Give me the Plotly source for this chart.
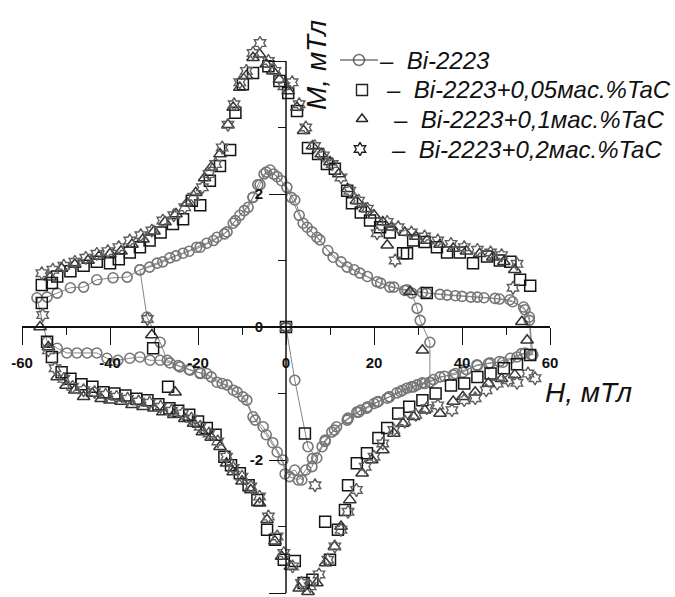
import plotly.graph_objects as go

# ---------------- data (H, mT ; M, mT) ----------------
# Bi-2223 (circles, joined in measurement order)
c_virgin_H = [0.0, 2.0, 5.0, 7.0]
c_virgin_M = [0.0, -0.8, -1.8, -1.97]
c_low0_H = [8.9, 11.0, 14.1, 16.5, 18.5, 21.0, 23.5, 26.0, 28.5, 31.0, 33.5, 36.0, 38.5, 41.0, 43.5, 46.0, 48.5, 51.0, 53.5, 55.8]
c_low0_M = [-1.7, -1.55, -1.37, -1.28, -1.2, -1.12, -1.05, -0.97, -0.9, -0.84, -0.79, -0.74, -0.7, -0.64, -0.58, -0.55, -0.52, -0.47, -0.4, -0.42]
c_jumpA_H = [55.3]
c_jumpA_M = [0.1]
c_up1_H = [54.3, 50.9, 47.5, 43.5, 40.0, 36.6, 32.0, 27.5, 23.6, 20.7, 16.8, 13.9, 10.7, 7.7, 5.9, 3.9, 2.0, 0.2, -2.0, -3.6, -5.0, -6.4, -7.5, -8.6, -10.5, -12.0, -13.4, -15.7, -18.0, -20.3, -23.4, -26.4, -29.3, -33.2, -36.1, -39.3, -43.0, -46.0, -49.0, -52.0, -54.3, -56.6]
c_up1_M = [0.26, 0.41, 0.43, 0.45, 0.46, 0.48, 0.51, 0.56, 0.6, 0.68, 0.81, 0.9, 1.05, 1.31, 1.43, 1.56, 1.91, 2.1, 2.26, 2.36, 2.3, 2.14, 1.95, 1.8, 1.68, 1.56, 1.43, 1.35, 1.26, 1.2, 1.11, 1.04, 0.96, 0.86, 0.75, 0.74, 0.71, 0.6, 0.59, 0.51, 0.45, 0.44]
c_low1_H = [-54.3, -52.0, -49.8, -47.5, -45.2, -43.0, -40.7, -38.2, -35.5, -33.2, -30.9, -28.6, -26.4, -24.1, -21.8, -19.5, -18.0, -15.7, -13.4, -11.1, -8.9, -7.5, -5.2, -3.0, -0.7, -0.2, 2.0, 3.6, 5.9, 8.2, 10.4, 13.9, 16.1, 18.4, 20.7, 23.0, 25.2, 27.5, 29.8, 32.7, 35.0, 38.0, 40.2, 43.4, 46.4, 49.3, 52.5, 54.3, 56.1]
c_low1_M = [-0.22, -0.32, -0.39, -0.39, -0.39, -0.39, -0.47, -0.5, -0.47, -0.45, -0.5, -0.5, -0.54, -0.6, -0.65, -0.69, -0.7, -0.83, -0.87, -0.98, -1.1, -1.35, -1.5, -1.74, -2.0, -2.21, -2.15, -2.3, -2.1, -1.8, -1.58, -1.4, -1.28, -1.22, -1.13, -1.07, -0.99, -0.92, -0.87, -0.83, -0.75, -0.72, -0.68, -0.57, -0.54, -0.53, -0.45, -0.39, -0.42]
c_jumpB_H = [55.3]
c_jumpB_M = [0.15]
c_up2_H = [54.0, 51.5, 48.5, 45.0, 42.0, 38.5, 35.0, 31.0, 27.0, 24.5, 21.5, 18.5, 15.5, 12.5, 9.5, 7.0, 4.8, 3.0, 1.2, -1.0, -2.8, -4.5, -5.9, -7.5, -9.5, -11.5, -14.0, -16.5, -19.5, -22.0, -25.0, -28.0, -31.0, -33.2]
c_up2_M = [0.3, 0.38, 0.42, 0.44, 0.45, 0.47, 0.49, 0.52, 0.55, 0.6, 0.66, 0.76, 0.86, 0.98, 1.15, 1.35, 1.5, 1.68, 1.95, 2.2, 2.3, 2.33, 2.14, 1.95, 1.75, 1.6, 1.4, 1.3, 1.2, 1.14, 1.07, 0.98, 0.9, 0.86]
c_jumpC_H = [-31.6, -28.6]
c_jumpC_M = [0.15, -0.23]
c_low2_H = [-27.0, -24.5, -22.0, -19.5, -17.0, -14.5, -12.0, -9.8, -7.0, -4.5, -2.0, 0.8, 2.8, 4.5, 6.0, 8.9, 11.5, 14.1, 17.0, 20.0, 23.5, 26.5, 29.0, 31.5, 32.7]
c_low2_M = [-0.5, -0.58, -0.64, -0.7, -0.75, -0.85, -0.95, -1.05, -1.4, -1.62, -1.88, -2.25, -2.3, -2.15, -1.98, -1.72, -1.5, -1.38, -1.25, -1.15, -1.05, -0.95, -0.9, -0.85, -0.83]
c_jumpD_H = [32.7, 30.5, 29.8, 28.6]
c_jumpD_M = [-0.23, 0.1, 0.28, 0.51]

# Bi-2223 + 0,05 wt.% TaC (squares)
sq_up_H = [55.5, 53.2, 51.0, 48.6, 45.7, 42.5, 39.5, 36.6, 34.3, 31.5, 28.9, 26.6, 23.6, 21.4, 19.1, 17.0, 15.0, 13.9, 11.1, 9.3, 7.3, 5.0, 2.5, 0.5, -1.5, -4.0, -7.5, -9.8, -11.5, -12.7, -15.0, -17.3, -19.5, -21.4, -23.4, -25.7, -28.5, -31.0, -33.2, -35.5, -38.0, -40.0, -43.0, -46.0, -49.0, -52.0, -53.2, -55.5]
sq_up_M = [0.62, 0.71, 0.98, 1.0, 1.06, 0.96, 1.12, 1.12, 1.2, 1.28, 1.3, 1.11, 1.42, 1.5, 1.6, 1.72, 1.86, 2.05, 2.38, 2.45, 2.6, 2.69, 3.25, 3.52, 3.7, 3.92, 3.82, 3.65, 3.22, 2.66, 2.42, 2.2, 1.83, 1.9, 1.62, 1.55, 1.42, 1.3, 1.2, 1.12, 1.02, 0.96, 0.98, 0.92, 0.84, 0.76, 0.66, 0.63]
sq_low_H = [-55.5, -54.3, -53.2, -51.0, -49.0, -46.5, -44.0, -41.5, -39.0, -36.5, -34.0, -31.5, -29.0, -26.5, -24.5, -22.0, -20.0, -18.0, -16.0, -14.0, -12.5, -10.5, -8.5, -6.5, -4.3, -2.5, -0.5, 2.0, 4.0, 6.0, 8.9, 10.0, 11.8, 13.4, 14.1, 16.1, 18.4, 21.0, 23.0, 25.5, 28.0, 31.0, 34.0, 37.5, 40.5, 43.5, 46.5, 49.5, 52.5, 55.5]
sq_low_M = [0.36, -0.22, -0.45, -0.68, -0.78, -0.86, -0.9, -0.98, -1.0, -1.03, -1.08, -1.1, -1.16, -1.22, -1.26, -1.32, -1.42, -1.52, -1.62, -1.95, -2.08, -2.2, -2.38, -2.6, -3.05, -3.2, -3.5, -3.52, -3.85, -3.8, -2.93, -3.5, -3.05, -2.75, -2.38, -2.05, -1.9, -1.67, -1.52, -1.3, -1.2, -1.1, -1.0, -0.88, -0.85, -0.75, -0.7, -0.62, -0.56, -0.42]
sq_extra_H = [0.0, 4.3, -30.2, -26.8, 27.5, 32.0]
sq_extra_M = [0.0, -1.6, -0.32, -0.9, 1.11, 0.51]

# Bi-2223 + 0,1 wt.% TaC (triangles)
tr_up_H = [53.6, 52.0, 49.5, 47.0, 44.0, 41.0, 38.0, 35.0, 32.0, 29.5, 27.0, 24.0, 22.0, 20.0, 18.0, 16.0, 14.0, 12.0, 10.0, 8.0, 6.0, 4.0, 2.5, 0.5, -1.5, -3.0, -4.5, -6.0, -7.5, -9.0, -10.5, -12.0, -13.2, -15.0, -17.0, -18.5, -20.5, -22.5, -25.0, -27.5, -30.0, -32.5, -35.0, -37.5, -40.0, -42.5, -45.0, -48.0, -51.0, -53.6, -55.9]
tr_up_M = [0.08, 0.86, 0.98, 1.05, 1.1, 1.14, 1.18, 1.24, 1.3, 1.36, 1.42, 1.5, 1.58, 1.68, 1.78, 1.9, 2.08, 2.3, 2.48, 2.6, 2.72, 2.95, 3.3, 3.55, 3.72, 3.85, 3.95, 4.1, 4.05, 3.78, 3.6, 3.3, 3.04, 2.6, 2.4, 2.24, 2.02, 1.86, 1.7, 1.58, 1.44, 1.32, 1.24, 1.14, 1.1, 1.06, 1.0, 0.94, 0.88, 0.75, 0.0]
tr_low_H = [-54.0, -52.0, -50.0, -48.0, -46.0, -44.0, -42.0, -40.0, -37.5, -35.0, -32.5, -30.0, -28.0, -25.5, -23.0, -21.0, -19.0, -17.0, -15.0, -13.5, -12.0, -10.0, -8.0, -6.0, -4.3, -2.5, -1.0, 1.0, 3.0, 5.0, 7.0, 9.0, 11.0, 12.5, 14.5, 17.3, 19.5, 22.0, 24.5, 26.6, 29.0, 31.5, 35.0, 38.0, 40.2, 43.0, 46.0, 49.0, 52.0, 54.8]
tr_low_M = [-0.3, -0.75, -0.88, -0.95, -1.05, -1.0, -1.08, -1.1, -1.12, -1.17, -1.2, -1.22, -1.28, -1.32, -1.38, -1.45, -1.58, -1.66, -1.8, -2.05, -2.18, -2.32, -2.45, -2.65, -2.9, -3.22, -3.45, -3.6, -3.93, -3.98, -3.85, -3.55, -3.3, -3.0, -2.6, -2.2, -2.0, -1.85, -1.6, -1.45, -1.35, -1.25, -1.3, -1.12, -1.05, -0.98, -0.85, -0.78, -0.72, -0.2]
tr_extra_H = [-30.5, -25.2, 31.0, 28.2, 23.0]
tr_extra_M = [-0.12, -0.98, -0.35, 0.53, 1.23]

# Bi-2223 + 0,2 wt.% TaC (six-point stars)
st_up_H = [52.5, 51.6, 49.0, 46.5, 43.5, 40.5, 37.5, 34.5, 31.5, 28.5, 25.5, 23.0, 20.7, 18.5, 16.5, 14.5, 12.5, 10.5, 8.5, 6.5, 4.5, 3.0, 1.4, -0.5, -2.5, -4.0, -5.9, -7.5, -9.0, -10.5, -11.8, -13.2, -14.5, -16.0, -17.5, -19.0, -21.0, -23.0, -25.5, -28.0, -30.5, -33.0, -35.5, -38.0, -40.5, -43.0, -45.5, -48.0, -50.5, -53.0, -55.5, -55.3]
st_up_M = [0.95, 0.59, 1.08, 1.12, 1.16, 1.2, 1.25, 1.3, 1.36, 1.42, 1.5, 1.58, 1.41, 1.78, 1.9, 2.05, 2.25, 2.45, 2.58, 2.72, 3.0, 3.35, 3.68, 3.62, 3.85, 4.0, 4.27, 4.12, 3.85, 3.68, 3.35, 3.04, 2.7, 2.45, 2.3, 2.1, 1.96, 1.8, 1.68, 1.6, 1.45, 1.38, 1.3, 1.2, 1.14, 1.1, 1.04, 0.98, 0.92, 0.86, 0.81, 0.18]
st_low_H = [-54.0, -52.5, -50.5, -48.5, -46.0, -43.5, -41.0, -38.5, -36.0, -33.5, -31.0, -28.5, -26.0, -23.5, -21.5, -19.5, -17.5, -15.5, -13.5, -12.0, -10.0, -8.0, -6.0, -4.0, -2.0, -0.5, 1.5, 3.5, 5.5, 7.5, 9.5, 11.1, 12.5, 14.1, 16.0, 18.0, 20.0, 22.0, 24.5, 27.0, 29.5, 32.0, 34.5, 37.7, 40.5, 43.0, 45.5, 48.0, 50.5, 52.5, 55.0, 56.6]
st_low_M = [-0.35, -0.62, -0.78, -0.9, -0.95, -0.98, -1.02, -1.05, -1.08, -1.12, -1.14, -1.2, -1.26, -1.3, -1.38, -1.5, -1.6, -1.72, -1.95, -2.12, -2.25, -2.4, -2.55, -2.85, -3.15, -3.4, -3.6, -3.85, -3.9, -3.72, -3.5, -3.3, -3.05, -2.78, -2.45, -2.1, -1.95, -1.75, -1.55, -1.42, -1.32, -1.22, -1.18, -1.25, -1.1, -1.07, -0.95, -0.85, -0.8, -0.84, -0.7, -0.77]
st_extra_H = [0.0, 6.6, -31.5, 24.8]
st_extra_M = [0.0, -2.38, 0.12, 1.0]

x_tickvals = [-60, -40, -20, 0, 20, 40, 60]
x_ticktext = ["-60", "-40", "-20", "0", "20", "40", "60"]
x_minor = [-50, -30, -10, 10, 30, 50]
y_tickvals = [-4, -2, 0, 2, 4]
y_ticktext = ["-4", "-2", "0", "2", ""]
y_minor = [-3, -1, 1, 3]
y_axis_extent = [-4, 4]

legend_labels = ["Bi-2223", "Bi-2223+0,05мас.%TaC", "Bi-2223+0,1мас.%TaC", "Bi-2223+0,2мас.%TaC"]

# ---------------- build ----------------
circ_H = (c_virgin_H + c_low0_H + c_jumpA_H + c_up1_H + c_low1_H + c_jumpB_H
          + c_up2_H + c_jumpC_H + c_low2_H + c_jumpD_H)
circ_M = (c_virgin_M + c_low0_M + c_jumpA_M + c_up1_M + c_low1_M + c_jumpB_M
          + c_up2_M + c_jumpC_M + c_low2_M + c_jumpD_M)

FONT = "Arial, Liberation Sans, sans-serif"
C_CIRC = "#767676"
C_SQ = "#151515"
C_TR = "#333333"
C_ST = "#5e5e5e"

# plot-area geometry (pixels)
L, T, W, H = 22, 8, 528, 585            # plot area: x 22..550, y 8..593
Y0_PX = 327                              # pixel row of M = 0
PX_PER_M = (593 - Y0_PX) / 4.0
y_lo = -4.0
y_hi = (Y0_PX - T) / PX_PER_M
x_axis_pos = (T + H - Y0_PX) / H

fig = go.Figure()
fig.add_trace(go.Scatter(x=circ_H, y=circ_M, mode="lines+markers", cliponaxis=False,
                         line=dict(color="#858585", width=1),
                         marker=dict(symbol="circle-open", size=10, color=C_CIRC, line=dict(width=1.6))))
fig.add_trace(go.Scatter(x=sq_up_H + sq_low_H + sq_extra_H, y=sq_up_M + sq_low_M + sq_extra_M,
                         mode="markers", cliponaxis=False,
                         marker=dict(symbol="square-open", size=11, color=C_SQ, line=dict(width=1.5))))
fig.add_trace(go.Scatter(x=tr_up_H + tr_low_H + tr_extra_H, y=tr_up_M + tr_low_M + tr_extra_M,
                         mode="markers", cliponaxis=False,
                         marker=dict(symbol="triangle-up-open", size=11, color=C_TR, line=dict(width=1.5))))
fig.add_trace(go.Scatter(x=st_up_H + st_low_H + st_extra_H, y=st_up_M + st_low_M + st_extra_M,
                         mode="markers", cliponaxis=False,
                         marker=dict(symbol="hexagram-open", size=10, color=C_ST, line=dict(width=1.4))))

# ---------------- manual legend (helper axes in pixel units) ----------------
def px(xp):
    return xp - L
def py(yp):
    return T + H - yp
def paper_x(xp):
    return (xp - L) / W
def paper_y(yp):
    return (T + H - yp) / H

rows_y = [60, 90, 119, 149]
fig.add_trace(go.Scatter(x=[px(340), px(359), px(378)], y=[py(rows_y[0])] * 3, xaxis="x2", yaxis="y2",
                         mode="lines+markers", cliponaxis=False, hoverinfo="skip",
                         line=dict(color="#333", width=1),
                         marker=dict(symbol="circle-open", size=[0, 11, 0], color="#333", line=dict(width=1.5))))
for sym, xs, yr, sz in [("square-open", 362, rows_y[1], 11), ("triangle-up-open", 362, rows_y[2], 10),
                        ("hexagram-open", 360, rows_y[3], 10)]:
    fig.add_trace(go.Scatter(x=[px(xs)], y=[py(yr)], xaxis="x2", yaxis="y2", mode="markers",
                             cliponaxis=False, hoverinfo="skip",
                             marker=dict(symbol=sym, size=sz, color="#222", line=dict(width=1.4))))

ann = []
for lab, xs, yr in zip(legend_labels, [377, 384, 391, 389], rows_y):
    ann.append(dict(x=paper_x(xs), y=paper_y(yr), xref="paper", yref="paper", xanchor="left", yanchor="middle",
                    text="<i>–  " + lab + "</i>", showarrow=False,
                    font=dict(family=FONT, size=24, color="#111")))
ann.append(dict(x=paper_x(316), y=paper_y(65), xref="paper", yref="paper", xanchor="center", yanchor="middle",
                text="<i>M, мТл</i>", textangle=-90, showarrow=False,
                font=dict(family=FONT, size=28, color="#111")))
ann.append(dict(x=paper_x(588), y=paper_y(392), xref="paper", yref="paper", xanchor="center", yanchor="middle",
                text="<i>H, мТл</i>", showarrow=False,
                font=dict(family=FONT, size=28, color="#111")))

tickfont = dict(family=FONT, size=15, color="#111", weight="bold")
fig.update_layout(
    width=675, height=597,
    margin=dict(l=L, r=675 - L - W, t=T, b=597 - T - H, pad=0),
    paper_bgcolor="white", plot_bgcolor="white",
    showlegend=False,
    annotations=ann,
    shapes=[dict(type="line", xref="x", yref="y", x0=0, x1=0, y0=y_axis_extent[0], y1=y_axis_extent[1],
                 line=dict(color="#111", width=1.5), layer="above")],
    xaxis=dict(range=[-60, 60], anchor="free", position=x_axis_pos, showline=True, linecolor="#111",
               linewidth=1.5, showgrid=False, zeroline=False,
               tickmode="array", tickvals=x_tickvals, ticktext=["<b>" + t + "</b>" for t in x_ticktext],
               ticks="outside", ticklen=17, tickwidth=1.2, tickcolor="#111",
               minor=dict(tickvals=x_minor, ticks="outside", ticklen=7, tickwidth=1.2, tickcolor="#111"),
               tickfont=tickfont, ticklabelstandoff=5, fixedrange=True),
    yaxis=dict(range=[y_lo, y_hi], anchor="free", position=0.5, showline=False,
               showgrid=False, zeroline=False,
               tickmode="array", tickvals=y_tickvals, ticktext=["<b>" + t + "</b>" if t else "" for t in y_ticktext],
               ticks="outside", ticklen=17, tickwidth=1.2, tickcolor="#111",
               minor=dict(tickvals=y_minor, ticks="outside", ticklen=8, tickwidth=1.2, tickcolor="#111"),
               tickfont=tickfont, ticklabelstandoff=3, fixedrange=True),
    xaxis2=dict(overlaying="x", range=[0, W], visible=False, fixedrange=True),
    yaxis2=dict(overlaying="y", range=[0, H], visible=False, fixedrange=True),
)

fig.write_html("out.html")
